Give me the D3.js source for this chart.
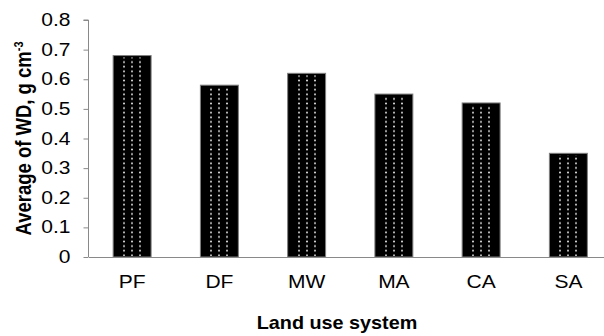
<!DOCTYPE html>
<html lang="en">
<head>
  <meta charset="UTF-8">
  <title>Average of WD</title>
  <script src="https://cdn.jsdelivr.net/npm/d3@7/dist/d3.min.js"></script>
  <style>
    body { margin: 0; background: #fff; }
    svg { display: block; font-family: Arial, "Liberation Sans", sans-serif; }
  </style>
</head>
<body>
<div id="chart"></div>
<script>
  // data
  const categories = ['PF', 'DF', 'MW', 'MA', 'CA', 'SA'];
  const values = [0.68, 0.58, 0.62, 0.55, 0.52, 0.35];
  const yTicks = [0, 0.1, 0.2, 0.3, 0.4, 0.5, 0.6, 0.7, 0.8];

  const width = 604, height = 336;
  const margin = { left: 88.5, right: -8, top: 20, bottom: 79 };
  const axisGrey = '#898989';
  // the source picture is a bit wider than tall, so the text is stretched sideways
  const stretch = 1.2;

  const svg = d3.select('#chart').append('svg')
    .attr('width', width)
    .attr('height', height);

  const defs = svg.append('defs');

  const x = d3.scaleBand()
    .domain(categories)
    .range([margin.left, width - margin.right])
    .paddingInner(0.565)
    .paddingOuter(0.2825);

  const y = d3.scaleLinear()
    .domain([0, 0.8])
    .range([height - margin.bottom, margin.top]);

  const cx = c => Math.round(x(c) + x.bandwidth() / 2);

  // one dot pattern per bar so the 3 dot columns sit centred in it
  categories.forEach((c, i) => {
    const p = defs.append('pattern')
      .attr('id', `dots_${i}`)
      .attr('patternUnits', 'userSpaceOnUse')
      .attr('x', cx(c) - 12)
      .attr('y', 0)
      .attr('width', 8)
      .attr('height', 4.6);
    p.append('rect').attr('width', 8).attr('height', 4.6).attr('fill', '#000');
    p.append('rect').attr('x', 3.2).attr('y', 1.5).attr('width', 1.6).attr('height', 1.6).attr('fill', '#fff');
  });

  const bars = svg.append('g')
    .selectAll('g')
    .data(values)
    .join('g');

  bars.append('rect')
    .attr('x', (d, i) => x(categories[i]))
    .attr('y', d => y(d))
    .attr('width', x.bandwidth())
    .attr('height', d => y(0) - y(d))
    .attr('fill', '#000')
    .attr('stroke', '#7f7f7f')
    .attr('stroke-width', 1);

  bars.append('rect')
    .attr('x', (d, i) => cx(categories[i]) - 12)
    .attr('y', d => y(d) + 2)
    .attr('width', 24)
    .attr('height', d => y(0) - y(d) - 3)
    .attr('fill', (d, i) => `url(#dots_${i})`);

  // y axis
  const yAxis = svg.append('g')
    .attr('transform', `translate(${margin.left},0)`)
    .call(d3.axisLeft(y).tickValues(yTicks).tickSize(5).tickPadding(10)
      .tickFormat(d => d === 0 ? '0' : d3.format('.1f')(d)));
  yAxis.select('.domain').attr('stroke', axisGrey).attr('d', `M-5,${y(0.8)}H0V${y(0)}`);
  yAxis.selectAll('.tick line').attr('stroke', axisGrey);
  yAxis.selectAll('.tick text')
    .attr('font-size', 17.5)
    .attr('fill', '#000')
    .attr('transform', `scale(${stretch},1)`);

  // x axis
  const xAxis = svg.append('g')
    .attr('transform', `translate(0,${y(0)})`)
    .call(d3.axisBottom(x).tickSize(0).tickPadding(19));
  xAxis.select('.domain').attr('stroke', axisGrey);
  xAxis.selectAll('.tick text')
    .attr('font-size', 17.5)
    .attr('fill', '#000')
    .attr('transform', `scale(${stretch},1)`);

  // axis titles
  svg.append('text')
    .attr('transform', `translate(337,329) scale(1.1,1)`)
    .attr('text-anchor', 'middle')
    .attr('font-size', 18)
    .attr('font-weight', 'bold')
    .text('Land use system');

  const yTitle = svg.append('text')
    .attr('transform', `translate(31,${(y(0) + y(0.8)) / 2}) rotate(-90) scale(1,${stretch})`)
    .attr('text-anchor', 'middle')
    .attr('font-size', 18.5)
    .attr('font-weight', 'bold');
  yTitle.append('tspan').text('Average of WD, g cm');
  yTitle.append('tspan').attr('font-size', 11).attr('dy', -7).text('-3');
</script>
</body>
</html>
